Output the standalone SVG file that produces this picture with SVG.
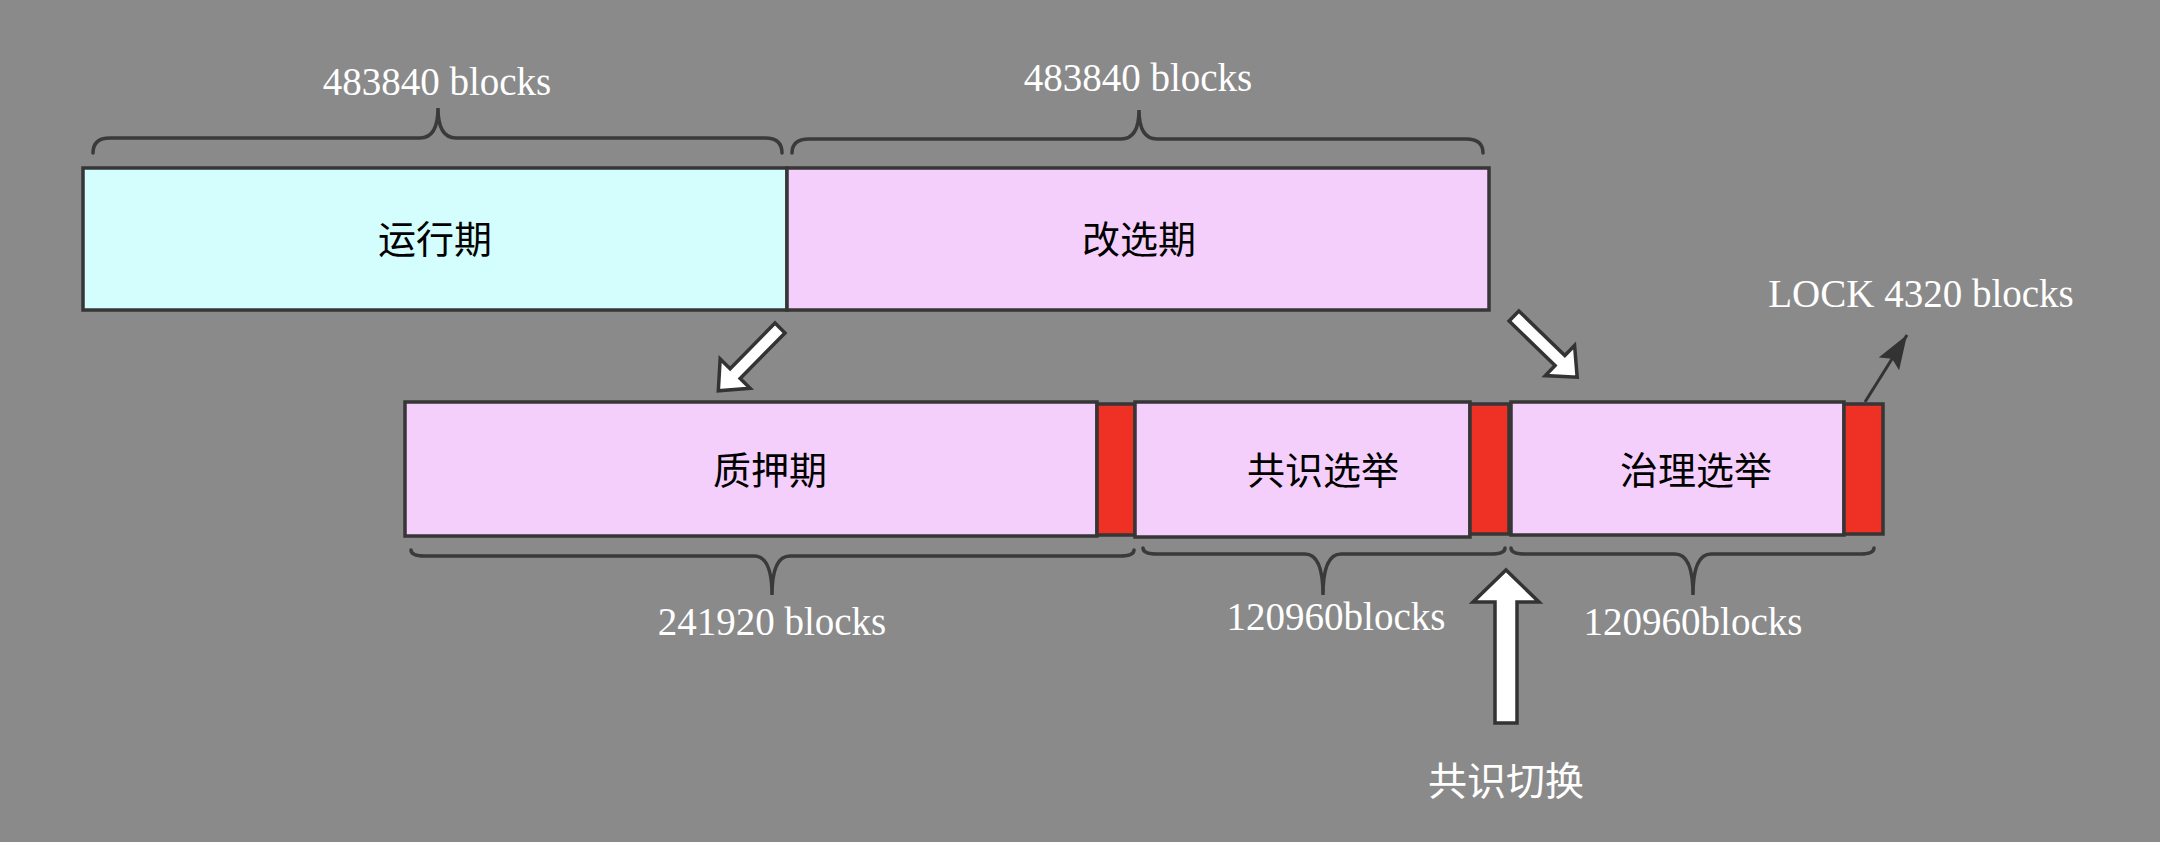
<svg xmlns="http://www.w3.org/2000/svg" width="2160" height="842" viewBox="0 0 2160 842">
<defs>
<style>
.box{stroke:#363636;stroke-width:3.5}
.cyan{fill:#D4FEFE}
.pink{fill:#F5CFFB}
.red{fill:#EE3124}
.brace{fill:none;stroke:#3a3a3a;stroke-width:3.5;stroke-linecap:round}
.lbl{font-family:"Liberation Serif","Noto Sans CJK SC",serif;font-size:39px;fill:#ffffff;text-anchor:middle}
.txt{font-family:"Liberation Serif","Noto Sans CJK SC",serif;font-size:38px;fill:#000000;text-anchor:middle}
.barrow{fill:#ffffff;stroke:#333333;stroke-width:3.5;stroke-linejoin:miter}
</style>
<marker id="ah" markerUnits="userSpaceOnUse" markerWidth="36" markerHeight="26" refX="34" refY="12" orient="auto">
<path d="M0,0 L34,12 L0,24 L6,12 Z" fill="#333333"/>
</marker>
</defs>
<rect x="0" y="0" width="2160" height="842" fill="#8a8a8a"/>

<g id="run">
<rect class="box cyan" x="83" y="168" width="704" height="142"/>
<text class="txt" x="435" y="253">运行期</text>
</g>
<g id="reelect">
<rect class="box pink" x="787" y="168" width="702" height="142"/>
<text class="txt" x="1139" y="253">改选期</text>
</g>
<g id="stake">
<rect class="box pink" x="405" y="402" width="692" height="134"/>
<text class="txt" x="770" y="484">质押期</text>
</g>
<g id="lock1"><rect class="box red" x="1097" y="404" width="38" height="131"/></g>
<g id="consensus">
<rect class="box pink" x="1135" y="402" width="335" height="135"/>
<text class="txt" x="1323" y="484">共识选举</text>
</g>
<g id="lock2"><rect class="box red" x="1470" y="404" width="39" height="130"/></g>
<g id="governance">
<rect class="box pink" x="1511" y="402" width="333" height="133"/>
<text class="txt" x="1696" y="484">治理选举</text>
</g>
<g id="lock3"><rect class="box red" x="1844" y="404" width="39" height="130"/></g>

<g id="braces">
<path class="brace" d="M93,153 Q93,138 110,138 L420,138 Q438,138 438,108 Q438,138 456,138 L765,138 Q782,138 782,153"/>
<path class="brace" d="M792,153 Q792,139 809,139 L1121,139 Q1139,139 1139,110 Q1139,139 1157,139 L1466,139 Q1483,139 1483,153"/>
<path class="brace" d="M411,550 Q411,556 425,556 L754,556 Q772,556 772,595 Q772,556 790,556 L1120,556 Q1134,556 1134,550"/>
<path class="brace" d="M1143,548 Q1143,554 1157,554 L1305,554 Q1323,554 1323,595 Q1323,554 1341,554 L1491,554 Q1505,554 1505,548"/>
<path class="brace" d="M1511,548 Q1511,554 1525,554 L1675,554 Q1693,554 1693,595 Q1693,554 1711,554 L1860,554 Q1874,554 1874,548"/>
</g>

<g id="labels">
<text class="lbl" x="437" y="95">483840 blocks</text>
<text class="lbl" x="1138" y="91">483840 blocks</text>
<text class="lbl" x="772" y="635">241920 blocks</text>
<text class="lbl" x="1336" y="630">120960blocks</text>
<text class="lbl" x="1693" y="635">120960blocks</text>
<text class="lbl" x="1921" y="307">LOCK 4320 blocks</text>
<text class="lbl" x="1506" y="795">共识切换</text>
</g>

<g id="connectors">
<polygon class="barrow" points="0,-7 64,-7 64,-21 88,0 64,21 64,7 0,7" transform="translate(780,328) rotate(134.5)"/>
<polygon class="barrow" points="0,-7 64,-7 64,-21 88,0 64,21 64,7 0,7" transform="translate(1514,316) rotate(44.1)"/>
<polygon class="barrow" points="0,-11 121,-11 121,-33 153,0 121,33 121,11 0,11" transform="translate(1506,723) rotate(-90)"/>
<line x1="1865" y1="402" x2="1907" y2="335" stroke="#333333" stroke-width="3" marker-end="url(#ah)"/>
</g>
</svg>
